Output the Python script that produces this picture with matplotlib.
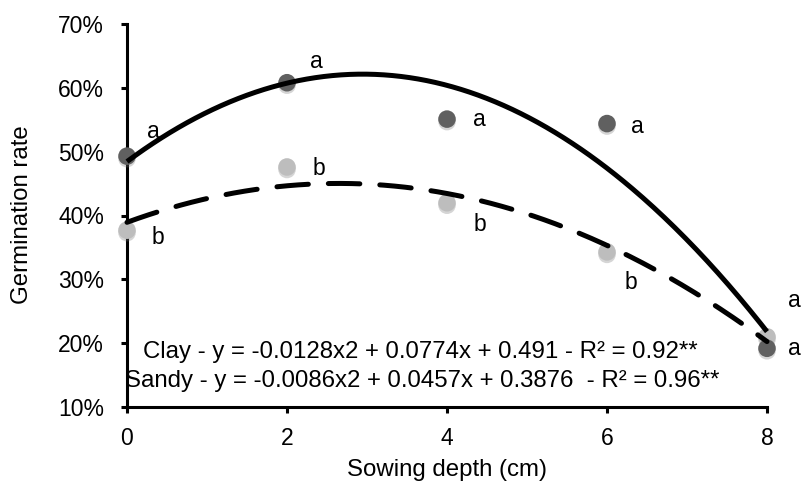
import numpy as np
import matplotlib
matplotlib.use("Agg")
import matplotlib.pyplot as plt
import matplotlib.patheffects as pe
from matplotlib.ticker import FuncFormatter

plt.rcParams['font.family'] = ['Liberation Sans', 'DejaVu Sans']

depth = [0, 2, 4, 6, 8]
clay = [0.493, 0.608, 0.551, 0.544, 0.192]
sandy = [0.377, 0.476, 0.420, 0.343, 0.210]
clay_letters = ['a', 'a', 'a', 'a', 'a']
sandy_letters = ['b', 'b', 'b', 'b', 'a']
clay_eq = "Clay - y = -0.0128x2 + 0.0774x + 0.491 - R² = 0.92**"
sandy_eq = "Sandy - y = -0.0086x2 + 0.0457x + 0.3876  - R² = 0.96**"
yticks = [0.1, 0.2, 0.3, 0.4, 0.5, 0.6, 0.7]
xticks = [0, 2, 4, 6, 8]

FS = 16.5
FS_TXT = 17.3

fig = plt.figure(figsize=(8.02, 4.88), dpi=100)
ax = fig.add_axes([127/802, 81/488, 640/802, 383/488])
ax.set_xlim(0, 8)
ax.set_ylim(0.1, 0.7)

xs = np.linspace(0, 8, 300)
pc = np.polyfit(depth, clay, 2)
ps = np.polyfit(depth, sandy, 2)

shadow = [pe.SimplePatchShadow(offset=(0, -1.8), shadow_rgbFace='#777777', alpha=0.3), pe.Normal()]

ax.plot(xs, np.polyval(pc, xs), color='black', lw=3.6, zorder=3, clip_on=False,
        solid_capstyle='butt')
ax.plot(xs, np.polyval(ps, xs), color='black', lw=3.6, zorder=3, clip_on=False,
        dashes=(6.3, 4.0), dash_capstyle='round')

ax.scatter(depth, sandy, s=160, color='#bdbdbd', edgecolors='none', zorder=2,
           clip_on=False, path_effects=shadow)
ax.scatter(depth, clay, s=160, color='#606060', edgecolors='none', zorder=2,
           clip_on=False, path_effects=shadow)

clay_off = [(19, 18), (21, 15), (23, 0), (22, -2), (20, 0)]
sandy_off = [(22, -5), (23, -1), (24, -16), (17, -22), (20, 26)]
for x, y, t, o in zip(depth, clay, clay_letters, clay_off):
    ax.annotate(t, (x, y), xytext=o, textcoords='offset points', ha='center',
                va='center', fontsize=FS, annotation_clip=False)
for x, y, t, o in zip(depth, sandy, sandy_letters, sandy_off):
    ax.annotate(t, (x, y), xytext=o, textcoords='offset points', ha='center',
                va='center', fontsize=FS, annotation_clip=False)

fig.text(420/802, (488-352)/488, clay_eq, ha='center', va='center', fontsize=FS_TXT)
fig.text(422/802, (488-381)/488, sandy_eq, ha='center', va='center', fontsize=FS_TXT)

for s in ['top', 'right']:
    ax.spines[s].set_visible(False)
for s in ['left', 'bottom']:
    ax.spines[s].set_linewidth(2.2)
    ax.spines[s].set_zorder(1)
ax.set_xticks(xticks)
ax.set_yticks(yticks)
ax.yaxis.set_major_formatter(FuncFormatter(lambda v, p: f"{v*100:.0f}%"))
ax.tick_params(axis='both', direction='out', length=4.5, width=2.2, labelsize=FS,
               colors='black')
ax.tick_params(axis='x', pad=10)
ax.tick_params(axis='y', pad=12)
fig.text(447/802, (488-470)/488, "Sowing depth (cm)", ha='center', va='center', fontsize=FS_TXT)
fig.text(22/802, (488-215)/488, "Germination rate", ha='center', va='center',
         rotation=90, fontsize=FS_TXT)

fig.savefig("out.png", dpi=100)
